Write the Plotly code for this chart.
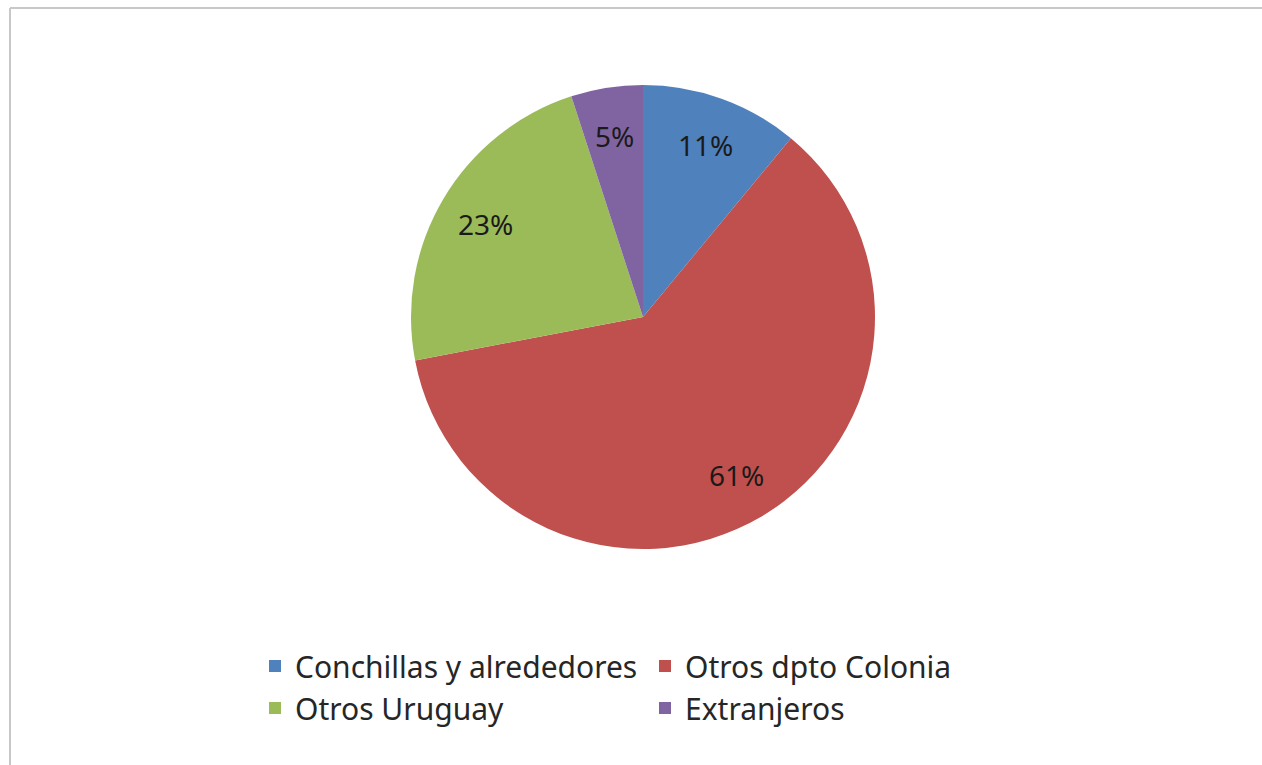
import math
import plotly.graph_objects as go

categories = ["Conchillas y alrededores", "Otros dpto Colonia", "Otros Uruguay", "Extranjeros"]
shares = [11, 61, 23, 5]
colors = ["#4F81BD", "#C0504D", "#9BBB59", "#8064A2"]

W, H = 1262, 765
ML, MR = 100, 100
PW = W - ML - MR

cx, cy, R = 643, 317, 232
LABEL_R = 0.79
fx = (cx - ML) / PW
half = 0.3

fig = go.Figure(go.Pie(
    labels=categories,
    values=shares,
    sort=False,
    direction="clockwise",
    rotation=0,
    marker=dict(colors=colors, line=dict(width=0)),
    textinfo="none",
    textposition="none",
    domain=dict(x=[fx - half, fx + half], y=[1 - (cy + R) / H, 1 - (cy - R) / H]),
    hoverinfo="label+percent",
))

# percentage labels placed along each slice's mid-angle (computed from the data)
total = sum(shares)
cum = 0
annotations = []
for v in shares:
    mid = (cum + v / 2) / total
    cum += v
    th = 2 * math.pi * mid
    px = cx + LABEL_R * R * math.sin(th)
    py = cy - LABEL_R * R * math.cos(th)
    annotations.append(dict(
        x=(px - ML) / PW, y=1 - py / H, xref="paper", yref="paper",
        text=f"{round(100 * v / total)}%", showarrow=False,
        xanchor="center", yanchor="middle",
        font=dict(family="Noto Sans", size=28, color="#1a1a1a"),
    ))

fig.update_layout(
    width=W, height=H,
    margin=dict(l=ML, r=MR, t=0, b=0),
    paper_bgcolor="white",
    plot_bgcolor="white",
    showlegend=True,
    annotations=annotations,
    legend=dict(
        orientation="h",
        entrywidth=345,
        entrywidthmode="pixels",
        x=(255 - ML) / PW, xanchor="left",
        y=1 - 640 / H, yanchor="top",
        font=dict(family="Noto Sans", size=30, color="#262626"),
        bgcolor="rgba(0,0,0,0)",
    ),
    shapes=[
        dict(type="line", xref="paper", yref="paper",
             x0=(10 - ML) / PW, x1=(W + 5 - ML) / PW, y0=1 - 8 / H, y1=1 - 8 / H,
             line=dict(color="#C8C8C8", width=2)),
        dict(type="line", xref="paper", yref="paper",
             x0=(10 - ML) / PW, x1=(10 - ML) / PW, y0=1 - 8 / H, y1=-0.05,
             line=dict(color="#C8C8C8", width=2)),
    ],
)

fig.write_html("out.html", config={"displayModeBar": False},
               post_script="document.body.style.margin='0';")
